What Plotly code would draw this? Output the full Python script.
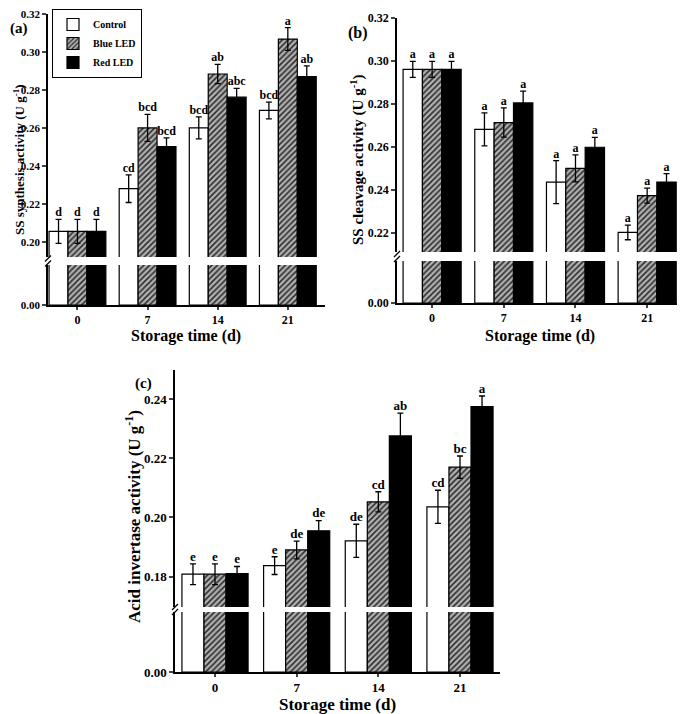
import plotly.graph_objects as go

# The page body has an 8px margin; reference pixel positions are converted accordingly.
OFF = 8
W, H = 685 - OFF, 714 - OFF

times = ["0", "7", "14", "21"]
treatments = ["Control", "Blue LED", "Red LED"]

# (a) SS synthesis activity
ss_syn_control = [0.2056, 0.2281, 0.2601, 0.2693]
ss_syn_blue = [0.2056, 0.2601, 0.2885, 0.3069]
ss_syn_red = [0.2056, 0.2502, 0.2763, 0.2871]
ss_syn_control_err = [0.0063, 0.0073, 0.0058, 0.0044]
ss_syn_blue_err = [0.0063, 0.0071, 0.0051, 0.0060]
ss_syn_red_err = [0.0063, 0.0046, 0.0046, 0.0057]
ss_syn_control_sig = ["d", "cd", "bcd", "bcd"]
ss_syn_blue_sig = ["d", "bcd", "ab", "a"]
ss_syn_red_sig = ["d", "bcd", "abc", "ab"]

# (b) SS cleavage activity
ss_clv_control = [0.2962, 0.2683, 0.2438, 0.2204]
ss_clv_blue = [0.2962, 0.2715, 0.2502, 0.2375]
ss_clv_red = [0.2962, 0.2806, 0.2600, 0.2438]
ss_clv_control_err = [0.0037, 0.0077, 0.0100, 0.0034]
ss_clv_blue_err = [0.0037, 0.0068, 0.0063, 0.0035]
ss_clv_red_err = [0.0037, 0.0055, 0.0046, 0.0039]
ss_clv_control_sig = ["a", "a", "a", "a"]
ss_clv_blue_sig = ["a", "a", "a", "a"]
ss_clv_red_sig = ["a", "a", "a", "a"]

# (c) Acid invertase activity
ai_control = [0.1808, 0.1837, 0.1921, 0.2036]
ai_blue = [0.1808, 0.1890, 0.2053, 0.2170]
ai_red = [0.1810, 0.1955, 0.2276, 0.2375]
ai_control_err = [0.0035, 0.0030, 0.0056, 0.0056]
ai_blue_err = [0.0035, 0.0030, 0.0034, 0.0038]
ai_red_err = [0.0024, 0.0034, 0.0077, 0.0036]
ai_control_sig = ["e", "e", "de", "cd"]
ai_blue_sig = ["e", "de", "cd", "bc"]
ai_red_sig = ["e", "de", "ab", "a"]

a_ticks = [0.20, 0.22, 0.24, 0.26, 0.28, 0.30, 0.32]
b_ticks = [0.22, 0.24, 0.26, 0.28, 0.30, 0.32]
c_ticks = [0.18, 0.20, 0.22, 0.24]

FONT = "Liberation Serif"


def px_x(x):
    return min(max((x - OFF) / W, 0), 1)


def px_y(y):
    return min(max(1 - (y - OFF) / H, 0), 1)


styles = [
    dict(marker=dict(color="white", line=dict(color="black", width=1.2))),
    dict(marker=dict(color="#9a9a9a", line=dict(color="black", width=1.2),
                     pattern=dict(shape="/", fgcolor="#2a2a2a", bgcolor="#b0b0b0",
                                  size=4, solidity=0.38, fillmode="replace"))),
    dict(marker=dict(color="black", line=dict(color="black", width=1.2))),
]

fig = go.Figure()

panels = [
    dict(vals=[ss_syn_control, ss_syn_blue, ss_syn_red],
         errs=[ss_syn_control_err, ss_syn_blue_err, ss_syn_red_err],
         sigs=[ss_syn_control_sig, ss_syn_blue_sig, ss_syn_red_sig],
         up="1", lo="2", ticks=a_ticks, xrange=[-0.42, 3.53],
         xpx=(48, 325), up_px=(14, 257), lo_px=(265, 305), up_range=(0.1921, 0.3201),
         fs_tick=11, fs_sig=12, legend=True),
    dict(vals=[ss_clv_control, ss_clv_blue, ss_clv_red],
         errs=[ss_clv_control_err, ss_clv_blue_err, ss_clv_red_err],
         sigs=[ss_clv_control_sig, ss_clv_blue_sig, ss_clv_red_sig],
         up="3", lo="4", ticks=b_ticks, xrange=[-0.49, 3.5],
         xpx=(397, 683), up_px=(18, 252), lo_px=(261, 303), up_range=(0.2113, 0.3201),
         fs_tick=12, fs_sig=12, legend=False),
    dict(vals=[ai_control, ai_blue, ai_red],
         errs=[ai_control_err, ai_blue_err, ai_red_err],
         sigs=[ai_control_sig, ai_blue_sig, ai_red_sig],
         up="5", lo="6", ticks=c_ticks, xrange=[-0.49, 3.49],
         xpx=(175, 500), up_px=(370, 607), lo_px=(612, 672), up_range=(0.1697, 0.2499),
         fs_tick=13, fs_sig=13, legend=False),
]


def ax(n, kind):
    return kind if n == "1" else kind + n


layout_axes = {}
for p in panels:
    for k in range(3):
        common = dict(x=times, y=p["vals"][k], name=treatments[k], offsetgroup=str(k),
                      **styles[k])
        # upper part (with error bars)
        fig.add_trace(go.Bar(**common, xaxis=ax(p["up"], "x"), yaxis=ax(p["up"], "y"),
                             error_y=dict(type="data", array=p["errs"][k], color="black",
                                          thickness=1.3, width=3),
                             showlegend=p["legend"], legendgroup=treatments[k]))
        # lower part
        fig.add_trace(go.Bar(**common, xaxis=ax(p["lo"], "x"), yaxis=ax(p["lo"], "y"),
                             showlegend=False, legendgroup=treatments[k]))
        # significance letters
        tops = [v + e for v, e in zip(p["vals"][k], p["errs"][k])]
        fig.add_trace(go.Scatter(x=times, y=tops, text=p["sigs"][k], mode="text",
                                 textposition="top center", offsetgroup=str(k),
                                 textfont=dict(family=FONT, size=p["fs_sig"], color="black",
                                               weight="bold"),
                                 cliponaxis=False, showlegend=False, hoverinfo="skip",
                                 xaxis=ax(p["up"], "x"), yaxis=ax(p["up"], "y")))

    xd = [px_x(p["xpx"][0]), px_x(p["xpx"][1])]
    tickfont = dict(family=FONT, size=p["fs_tick"], color="black", weight="bold")
    xtickfont = dict(family=FONT, size=p["fs_sig"], color="black", weight="bold")
    layout_axes[ax(p["up"], "xaxis")] = dict(domain=xd, range=p["xrange"], visible=False,
                                             anchor=ax(p["up"], "y"), automargin=False)
    layout_axes[ax(p["lo"], "xaxis")] = dict(domain=xd, range=p["xrange"],
                                             anchor=ax(p["lo"], "y"),
                                             showline=True, linecolor="black", linewidth=1.5,
                                             ticks="outside", ticklen=3, tickwidth=1.5,
                                             tickfont=xtickfont, showgrid=False,
                                             automargin=False)
    up_d = [px_y(p["up_px"][1]), px_y(p["up_px"][0])]
    lo_d = [px_y(p["lo_px"][1]), px_y(p["lo_px"][0])]
    layout_axes[ax(p["up"], "yaxis")] = dict(domain=up_d, range=list(p["up_range"]),
                                             anchor=ax(p["up"], "x"),
                                             showline=True, linecolor="black", linewidth=1.5,
                                             ticks="outside", ticklen=4, tickwidth=1.5,
                                             tickvals=p["ticks"],
                                             ticktext=["%.2f" % t for t in p["ticks"]],
                                             tickfont=tickfont, showgrid=False, zeroline=False,
                                             automargin=False)
    layout_axes[ax(p["lo"], "yaxis")] = dict(domain=lo_d, range=[0, 0.01],
                                             anchor=ax(p["lo"], "x"),
                                             showline=True, linecolor="black", linewidth=1.5,
                                             ticks="outside", ticklen=4, tickwidth=1.5,
                                             tickvals=[0], ticktext=["0.00"],
                                             tickfont=tickfont, showgrid=False, zeroline=False,
                                             automargin=False)

# break marks on y axes
shapes = []
for p in panels:
    xa = p["xpx"][0]
    yg = (p["up_px"][1] + p["lo_px"][0]) / 2
    for dy in (-2.5, 2.5):
        shapes.append(dict(type="line", xref="paper", yref="paper",
                           x0=px_x(xa - 3), x1=px_x(xa + 3),
                           y0=px_y(yg + dy + 3), y1=px_y(yg + dy - 3),
                           line=dict(color="black", width=1.3)))


def ann(text, x, y, size, angle=0, xanchor="center"):
    return dict(text=text, x=px_x(x), y=px_y(y), xref="paper", yref="paper",
                showarrow=False, textangle=angle, xanchor=xanchor, yanchor="middle",
                font=dict(family=FONT, size=size, color="black", weight="bold"))


annotations = [
    ann("(a)", 8, 28, 15, xanchor="left"),
    ann("(b)", 358, 33, 16),
    ann("(c)", 143, 383, 15),
    ann("SS synthesis activity (U g<sup>-1</sup>)", 19, 160, 13, -90),
    ann("SS cleavage activity (U g<sup>-1</sup>)", 357, 160, 15, -90),
    ann("Acid invertase activity (U g<sup>-1</sup>)", 133, 517, 17, -90),
    ann("Storage time (d)", 186, 336, 16),
    ann("Storage time (d)", 540, 336, 16),
    ann("Storage time (d)", 337, 704, 17),
]

fig.update_layout(
    width=W, height=H,
    margin=dict(l=0, r=0, t=0, b=0, pad=0, autoexpand=False),
    paper_bgcolor="white", plot_bgcolor="white",
    barmode="group", bargap=0.19, bargroupgap=0,
    scattermode="group", scattergap=0.19,
    showlegend=True,
    legend=dict(x=px_x(52), y=px_y(9), xanchor="left", yanchor="top",
                bgcolor="white", bordercolor="black", borderwidth=1,
                font=dict(family=FONT, size=10, color="black", weight="bold"),
                tracegroupgap=0, itemwidth=30),
    shapes=shapes, annotations=annotations,
    **layout_axes,
)

fig.write_html("out.html")
